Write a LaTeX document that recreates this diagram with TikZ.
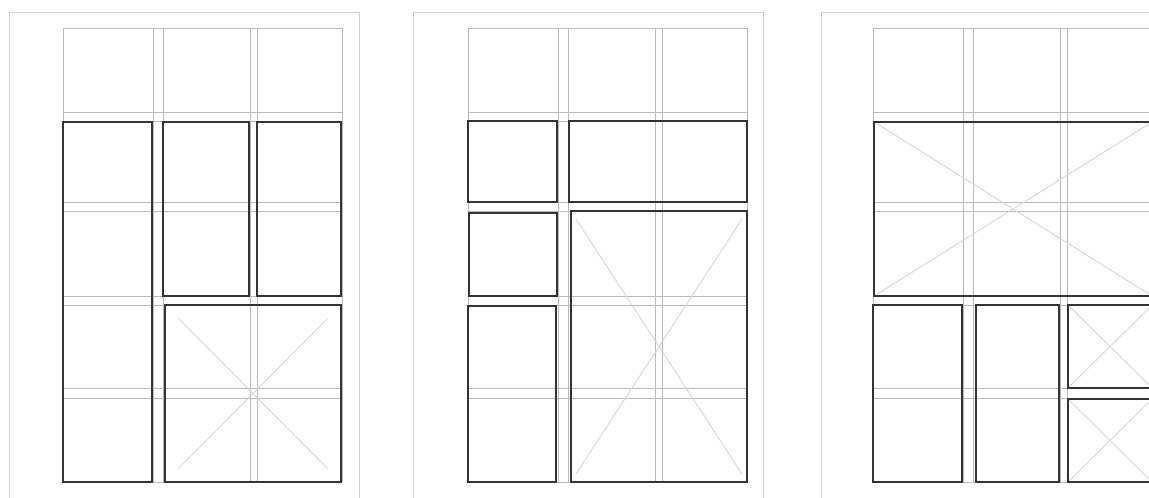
\documentclass[tikz,border=0pt]{standalone}
\begin{document}
\begin{tikzpicture}[x=1pt,y=-1pt,
  pageframe/.style={draw=black!18,line width=0.9pt},
  gridline/.style={draw=black!27,line width=0.8pt},
  boldbox/.style={draw=black!80,line width=1.9pt},
  crossline/.style={draw=black!15,line width=1pt}]
\useasboundingbox (0,0) rectangle (1149,498);
\begin{scope}
\clip (0,0) rectangle (1149,498);
\foreach \gx/\px in {63/9.5,468/413,873/821}{
  \begin{scope}[shift={(\gx,0)}]
    % page frame
    \draw[pageframe] (\px-\gx,520) -- (\px-\gx,12) -- (\px-\gx+350,12) -- (\px-\gx+350,520);
    % grid
    \foreach \cx in {0,90,100,187,194,279}{
      \draw[gridline] (\cx,28) -- (\cx,482);
    }
    \foreach \ry in {28,112,121,202,211,296,305,388,398,482}{
      \draw[gridline] (0,\ry) -- (279,\ry);
    }
  \end{scope}
}
% page 1 boxes
\begin{scope}[shift={(63,0)}]
  \draw[crossline] (115,318) -- (265,469) (115,469) -- (265,318);
  \draw[boldbox] (0,122) rectangle (89,482);
  \draw[boldbox] (100,122) rectangle (186,296);
  \draw[boldbox] (194,122) rectangle (278,296);
  \draw[boldbox] (102,305) rectangle (278,482);
\end{scope}
% page 2 boxes
\begin{scope}[shift={(468,0)}]
  \draw[crossline] (108,219) -- (274,474) (108,474) -- (274,219);
  \draw[boldbox] (0,121) rectangle (89,202);
  \draw[boldbox] (101,121) rectangle (279,202);
  \draw[boldbox] (1,213) rectangle (89,296);
  \draw[boldbox] (103,211) rectangle (279,482);
  \draw[boldbox] (0,306) rectangle (88,482);
\end{scope}
% page 3 boxes
\begin{scope}[shift={(873,0)}]
  \draw[crossline] (1,122) -- (279,296) (1,296) -- (279,122);
  \draw[crossline] (195,305) -- (279,388) (195,388) -- (279,305);
  \draw[crossline] (195,399) -- (279,482) (195,482) -- (279,399);
  \draw[boldbox] (1,122) rectangle (279,296);
  \draw[boldbox] (0,305) rectangle (89,482);
  \draw[boldbox] (103,305) rectangle (186,482);
  \draw[boldbox] (195,305) rectangle (279,388);
  \draw[boldbox] (195,399) rectangle (279,482);
\end{scope}
\end{scope}
\end{tikzpicture}
\end{document}
